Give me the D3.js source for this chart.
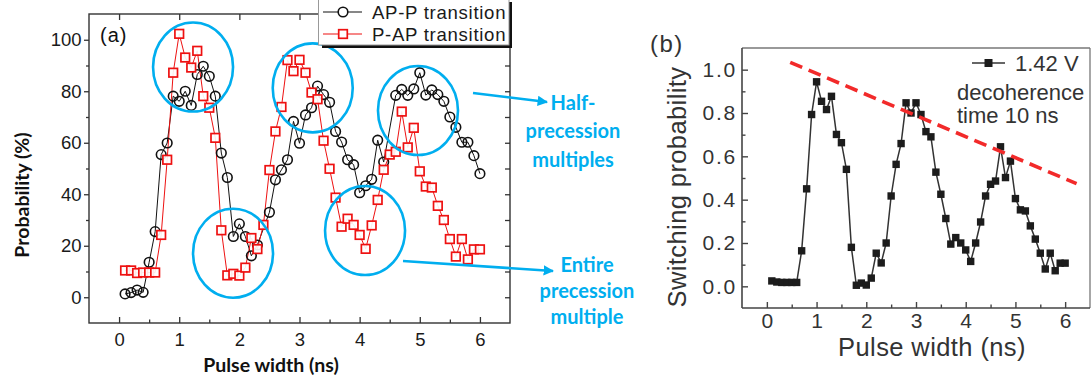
<!DOCTYPE html>
<html>
<head>
<meta charset="utf-8">
<script src="https://cdn.jsdelivr.net/npm/d3@7/dist/d3.min.js"></script>
<style>
  html, body { margin: 0; padding: 0; background: #fff; }
  svg { display: block; }
</style>
</head>
<body>
<svg id="fig" width="1092" height="385"></svg>
<script>
// ---------- Panel (a): measured switching probability (%) ----------
const apT = [0.1,0.2,0.3,0.4,0.5,0.6,0.7,0.8,0.9,1.0,1.1,1.2,1.3,1.4,1.5,1.6,1.7,1.8,1.9,2.0,2.1,2.2,2.3,
             2.5,2.6,2.7,2.8,2.9,3.0,3.1,3.2,3.3,3.4,3.5,3.6,3.7,3.8,3.9,4.0,4.1,4.2,4.3,4.4,
             4.6,4.7,4.8,4.9,5.0,5.1,5.2,5.3,5.4,5.5,5.6,5.7,5.8,5.9,6.0];
const apP = [1.3,1.8,2.8,1.9,13.6,25.5,55.4,59.9,78.1,76.1,80,74.5,86.5,89.7,85.8,78.1,56,46.5,23.6,28.5,23.6,16.1,20.3,
             33,45.6,49.5,53.4,68.3,59.8,70.8,73.6,82,78.7,75.7,64.4,60.3,53.4,51.5,40.6,43.3,45.8,61,52.5,
             78.4,80.7,78.4,80.9,87.2,78.5,80.5,78.7,76.1,70,66,60.2,60.2,55,48];

const papT = [0.1,0.2,0.3,0.4,0.5,0.6,0.7,0.8,0.9,1.0,1.1,1.2,1.3,1.4,1.5,1.6,1.7,1.8,1.9,2.0,
              2.1,2.2,2.3,2.4,2.5,2.6,2.7,2.8,2.9,3.0,3.1,3.2,3.3,3.4,3.5,3.6,3.7,3.8,3.9,4.0,
              4.1,4.2,4.3,4.4,4.5,4.6,4.7,4.8,4.9,5.0,5.1,5.2,5.3,5.4,5.5,5.6,5.7,5.8,5.9,6.0];
const papP = [10.4,10.4,9.4,9.6,9.6,9.6,24.2,53.4,87.2,102.3,93.1,89.2,95.7,78.1,73.6,61.9,26,8.5,9.1,8.4,
              11.5,23,18.7,28.1,49.4,64.4,73.9,92.1,87.8,92.2,87.2,79.5,76.9,60.8,49.9,38.7,27.4,30.5,28.1,24.2,
              18.8,27.9,37.8,49.5,55.4,56.5,72.1,58.2,65.8,48.9,43,42.6,35.5,30,22.6,15.8,22.6,14.7,18.6,18.6];

const aXTicks = [0,1,2,3,4,5,6];
const aXMinor = [0.5,1.5,2.5,3.5,4.5,5.5];
const aYTicks = [0,20,40,60,80,100];
const aYMinor = [10,30,50,70,90];
const aLegend = ["AP-P transition", "P-AP transition"];

// ---------- Panel (b): switching probability at 1.42 V ----------
const bT = [0.1,0.2,0.3,0.4,0.5,0.6,0.7,0.8,0.9,1.0,1.1,1.2,1.3,1.4,1.5,1.6,1.7,1.8,1.9,2.0,
            2.1,2.2,2.3,2.4,2.5,2.6,2.7,2.8,2.9,3.0,3.1,3.2,3.3,3.4,3.5,3.6,3.7,3.8,3.9,4.0,
            4.1,4.2,4.3,4.4,4.5,4.6,4.7,4.8,4.9,5.0,5.1,5.2,5.3,5.4,5.5,5.6,5.7,5.8,5.9,6.0];
const bP = [0.025,0.02,0.018,0.018,0.018,0.018,0.164,0.45,0.793,0.944,0.854,0.816,0.877,0.701,0.663,0.54,0.18,0.005,0.015,0.006,
            0.038,0.153,0.108,0.2,0.417,0.563,0.659,0.847,0.8,0.847,0.793,0.714,0.69,0.527,0.425,0.313,0.195,0.225,0.2,0.168,
            0.115,0.2,0.297,0.417,0.471,0.486,0.644,0.502,0.578,0.405,0.353,0.348,0.279,0.218,0.153,0.08,0.153,0.072,0.107,0.107];
// decoherence envelope (straight dashed guide)
const envT = [0.47, 6.23];
const envP = [1.034, 0.474];

const bXTicks = [0,1,2,3,4,5,6];
const bXMinor = [0.5,1.5,2.5,3.5,4.5,5.5];
const bYTicks = [0.0,0.2,0.4,0.6,0.8,1.0];
const bYMinor = [0.1,0.3,0.5,0.7,0.9];

// ---------- drawing ----------
const svg = d3.select("#fig");
const SANS = "'Liberation Sans', Arial, sans-serif";
const HUMAN = "Lato, 'Open Sans', sans-serif";
const BLUE = "#00aeef";

// arrowhead marker for the annotation callouts
svg.append("defs").append("marker")
  .attr("id", "arrowHead").attr("viewBox", "0 0 10 10")
  .attr("refX", 9).attr("refY", 5)
  .attr("markerWidth", 4).attr("markerHeight", 4)
  .attr("orient", "auto")
  .append("path").attr("d", "M0,0 L10,5 L0,10 Z").attr("fill", BLUE);

function styleAxis(g, color, width) {
  g.select(".domain").remove();
  g.selectAll(".tick line").attr("stroke", color).attr("stroke-width", width);
}

// ===== Panel (a) =====
const A = { l: 89, r: 510, t: 14, b: 323 };
const xA = d3.scaleLinear().domain([-0.5, 6.5]).range([A.l, A.r]);
const yA = d3.scaleLinear().domain([-10, 110]).range([A.b, A.t]);
const gA = svg.append("g");

// bottom axis, inward ticks
gA.append("g").attr("transform", `translate(0,${A.b})`)
  .call(d3.axisBottom(xA).tickValues(aXTicks).tickSizeInner(-6).tickSizeOuter(0).tickPadding(10).tickFormat(d3.format("d")))
  .call(g => styleAxis(g, "#333", 1.3))
  .call(g => g.selectAll("text").attr("font-family", SANS).attr("font-size", 18.5).attr("fill", "#1a1a1a"));
gA.append("g").attr("transform", `translate(0,${A.b})`)
  .call(d3.axisBottom(xA).tickValues(aXMinor).tickSize(-3.5).tickFormat(""))
  .call(g => styleAxis(g, "#333", 1.3));
// top axis mirror ticks
gA.append("g").attr("transform", `translate(0,${A.t})`)
  .call(d3.axisTop(xA).tickValues(aXTicks).tickSize(-6).tickFormat(""))
  .call(g => styleAxis(g, "#333", 1.3));
// left axis, outward ticks
gA.append("g").attr("transform", `translate(${A.l},0)`)
  .call(d3.axisLeft(yA).tickValues(aYTicks).tickSize(5).tickPadding(2.5).tickFormat(d3.format("d")))
  .call(g => styleAxis(g, "#333", 1.3))
  .call(g => g.selectAll("text").attr("font-family", SANS).attr("font-size", 18.5).attr("fill", "#1a1a1a"));
gA.append("g").attr("transform", `translate(${A.l},0)`)
  .call(d3.axisLeft(yA).tickValues(aYMinor).tickSize(3).tickFormat(""))
  .call(g => styleAxis(g, "#333", 1.3));
// right axis mirror ticks
gA.append("g").attr("transform", `translate(${A.r},0)`)
  .call(d3.axisRight(yA).tickValues(aYTicks.concat(aYMinor)).tickSize(-5).tickFormat(""))
  .call(g => styleAxis(g, "#333", 1.3));
// frame
gA.append("rect").attr("x", A.l).attr("y", A.t).attr("width", A.r - A.l).attr("height", A.b - A.t)
  .attr("fill", "none").attr("stroke", "#333").attr("stroke-width", 1.4);

// series (a)
const apData = apT.map((t, i) => ({ t, p: apP[i] }));
const papData = papT.map((t, i) => ({ t, p: papP[i] }));
const lineA = d3.line().x(d => xA(d.t)).y(d => yA(d.p));

gA.append("path").datum(apData).attr("d", lineA)
  .attr("fill", "none").attr("stroke", "#111").attr("stroke-width", 1);
gA.append("path").datum(papData).attr("d", lineA)
  .attr("fill", "none").attr("stroke", "#ee1111").attr("stroke-width", 1);

gA.append("g").selectAll("circle").data(apData).join("circle")
  .attr("cx", d => xA(d.t)).attr("cy", d => yA(d.p)).attr("r", 4.8)
  .attr("fill", "none").attr("stroke", "#111").attr("stroke-width", 1.6);
const sq = 8.6;
gA.append("g").selectAll("rect").data(papData).join("rect")
  .attr("x", d => xA(d.t) - sq / 2).attr("y", d => yA(d.p) - sq / 2)
  .attr("width", sq).attr("height", sq)
  .attr("fill", "#fff").attr("fill-opacity", 0.9).attr("stroke", "#ee1111").attr("stroke-width", 1.7);

// axis titles (a)
gA.append("text").attr("x", 271).attr("y", 372).attr("text-anchor", "middle")
  .attr("font-family", HUMAN).attr("font-weight", 700).attr("font-size", 19.5).attr("fill", "#111")
  .text("Pulse width (ns)");
gA.append("text").attr("transform", "translate(29,195) rotate(-90)").attr("text-anchor", "middle")
  .attr("font-family", HUMAN).attr("font-weight", 700).attr("font-size", 19.5).attr("fill", "#111")
  .text("Probability (%)");
gA.append("text").attr("x", 100).attr("y", 42)
  .attr("font-family", SANS).attr("font-size", 20).attr("letter-spacing", 1).attr("fill", "#111")
  .text("(a)");

// highlighted regions (data-space centres, pixel radii)
const rings = [
  { t: 1.23, p: 89.4 }, { t: 3.22, p: 81.3 }, { t: 4.97, p: 72.5 },
  { t: 1.895, p: 17.1 }, { t: 4.09, p: 25.9 }
];
gA.append("g").selectAll("ellipse").data(rings).join("ellipse")
  .attr("cx", d => xA(d.t)).attr("cy", d => yA(d.p)).attr("rx", 40).attr("ry", 44.5)
  .attr("fill", "none").attr("stroke", BLUE).attr("stroke-width", 2.6);

// callout arrows and labels
gA.append("line").attr("x1", 473).attr("y1", 93).attr("x2", 547).attr("y2", 102)
  .attr("stroke", BLUE).attr("stroke-width", 2.6).attr("marker-end", "url(#arrowHead)");
gA.append("line").attr("x1", 403).attr("y1", 261).attr("x2", 553).attr("y2", 271)
  .attr("stroke", BLUE).attr("stroke-width", 2.6).attr("marker-end", "url(#arrowHead)");

const callout1 = ["Half-", "precession", "multiples"];
const callout2 = ["Entire", "precession", "multiple"];
gA.append("g").selectAll("text").data(callout1).join("text")
  .attr("x", 573).attr("y", (d, i) => 109.5 + i * 28.5).attr("text-anchor", "middle")
  .attr("font-family", HUMAN).attr("font-weight", 700).attr("font-size", 20).attr("fill", BLUE)
  .text(d => d);
gA.append("g").selectAll("text").data(callout2).join("text")
  .attr("x", 587).attr("y", (d, i) => 271.5 + i * 26).attr("text-anchor", "middle")
  .attr("font-family", HUMAN).attr("font-weight", 700).attr("font-size", 20).attr("fill", BLUE)
  .text(d => d);

// legend (a) with drop shadow
const lg = gA.append("g");
lg.append("rect").attr("x", 322).attr("y", 2).attr("width", 190).attr("height", 46).attr("fill", "#111");
lg.append("rect").attr("x", 318.5).attr("y", -3).attr("width", 190.5).attr("height", 48)
  .attr("fill", "#fff").attr("stroke", "#999").attr("stroke-width", 1);
const legRows = [
  { y: 12, color: "#111", shape: "circle" },
  { y: 34, color: "#ee1111", shape: "square" }
];
legRows.forEach((r, i) => {
  lg.append("line").attr("x1", 323).attr("x2", 362).attr("y1", r.y).attr("y2", r.y)
    .attr("stroke", r.color).attr("stroke-width", 1.2);
  if (r.shape === "circle") {
    lg.append("circle").attr("cx", 343).attr("cy", r.y).attr("r", 4.8)
      .attr("fill", "#fff").attr("stroke", r.color).attr("stroke-width", 1.6);
  } else {
    lg.append("rect").attr("x", 343 - sq / 2).attr("y", r.y - sq / 2).attr("width", sq).attr("height", sq)
      .attr("fill", "#fff").attr("stroke", r.color).attr("stroke-width", 1.7);
  }
  lg.append("text").attr("x", 372).attr("y", r.y + 6.8)
    .attr("font-family", SANS).attr("font-size", 18.6).attr("letter-spacing", 0.7).attr("fill", "#1a1a1a")
    .text(aLegend[i]);
});

// ===== Panel (b) =====
const B = { l: 742, r: 1090, t: 48, b: 308 };
const xB = d3.scaleLinear().domain([-0.5, 6.5]).range([B.l, B.r]);
const yB = d3.scaleLinear().domain([-0.1, 1.1]).range([B.b, B.t]);
const gB = svg.append("g");

gB.append("g").attr("transform", `translate(0,${B.b})`)
  .call(d3.axisBottom(xB).tickValues(bXTicks).tickSizeInner(-6).tickSizeOuter(0).tickPadding(5).tickFormat(d3.format("d")))
  .call(g => styleAxis(g, "#444", 1.4))
  .call(g => g.selectAll("text").attr("font-family", SANS).attr("font-size", 21).attr("fill", "#333"));
gB.append("g").attr("transform", `translate(0,${B.b})`)
  .call(d3.axisBottom(xB).tickValues(bXMinor).tickSize(-3.5).tickFormat(""))
  .call(g => styleAxis(g, "#444", 1.4));
gB.append("g").attr("transform", `translate(${B.l},0)`)
  .call(d3.axisLeft(yB).tickValues(bYTicks).tickSizeInner(-6).tickSizeOuter(0).tickPadding(5).tickFormat(d3.format(".1f")))
  .call(g => styleAxis(g, "#444", 1.4))
  .call(g => g.selectAll("text").attr("font-family", SANS).attr("font-size", 21).attr("letter-spacing", 1.8).attr("fill", "#333"));
gB.append("g").attr("transform", `translate(${B.l},0)`)
  .call(d3.axisLeft(yB).tickValues(bYMinor).tickSize(-3.5).tickFormat(""))
  .call(g => styleAxis(g, "#444", 1.4));

// frame: dark left/bottom, light top/right
gB.append("line").attr("x1", B.l).attr("x2", B.r).attr("y1", B.t).attr("y2", B.t).attr("stroke", "#777").attr("stroke-width", 1.3);
gB.append("line").attr("x1", B.r).attr("x2", B.r).attr("y1", B.t).attr("y2", B.b).attr("stroke", "#777").attr("stroke-width", 1.3);
gB.append("line").attr("x1", B.l).attr("x2", B.r).attr("y1", B.b).attr("y2", B.b).attr("stroke", "#444").attr("stroke-width", 1.6);
gB.append("line").attr("x1", B.l).attr("x2", B.l).attr("y1", B.t).attr("y2", B.b).attr("stroke", "#444").attr("stroke-width", 1.6);

const bData = bT.map((t, i) => ({ t, p: bP[i] }));
const lineB = d3.line().x(d => xB(d.t)).y(d => yB(d.p));
gB.append("path").datum(bData).attr("d", lineB)
  .attr("fill", "none").attr("stroke", "#333").attr("stroke-width", 1.5);
const bs = 7.4;
gB.append("g").selectAll("rect").data(bData).join("rect")
  .attr("x", d => xB(d.t) - bs / 2).attr("y", d => yB(d.p) - bs / 2)
  .attr("width", bs).attr("height", bs).attr("fill", "#1c1c1c");

// decoherence envelope
const envData = envT.map((t, i) => ({ t, p: envP[i] }));
gB.append("path").datum(envData).attr("d", lineB)
  .attr("fill", "none").attr("stroke", "#f22a2a").attr("stroke-width", 3.6).attr("stroke-dasharray", "13,7");

// titles (b)
gB.append("text").attr("x", 932).attr("y", 356).attr("text-anchor", "middle")
  .attr("font-family", SANS).attr("font-size", 25.5).attr("letter-spacing", 0.4).attr("fill", "#333")
  .text("Pulse width (ns)");
gB.append("text").attr("transform", "translate(686,187) rotate(-90)").attr("text-anchor", "middle")
  .attr("font-family", SANS).attr("font-size", 25.5).attr("letter-spacing", 0.4).attr("fill", "#333")
  .text("Switching probability");
gB.append("text").attr("x", 650).attr("y", 52)
  .attr("font-family", SANS).attr("font-size", 24).attr("letter-spacing", 1.5).attr("fill", "#333")
  .text("(b)");

// legend (b)
gB.append("line").attr("x1", 972).attr("x2", 1005).attr("y1", 63).attr("y2", 63)
  .attr("stroke", "#333").attr("stroke-width", 1.5);
gB.append("rect").attr("x", 988.5 - 4).attr("y", 63 - 4).attr("width", 8).attr("height", 8).attr("fill", "#1c1c1c");
gB.append("text").attr("x", 1015).attr("y", 70.5)
  .attr("font-family", SANS).attr("font-size", 22).attr("fill", "#333").text("1.42 V");
gB.append("text").attr("x", 957).attr("y", 99.5)
  .attr("font-family", SANS).attr("font-size", 22).attr("fill", "#333").text("decoherence");
gB.append("text").attr("x", 957).attr("y", 123)
  .attr("font-family", SANS).attr("font-size", 22).attr("fill", "#333").text("time 10 ns");
</script>
</body>
</html>
